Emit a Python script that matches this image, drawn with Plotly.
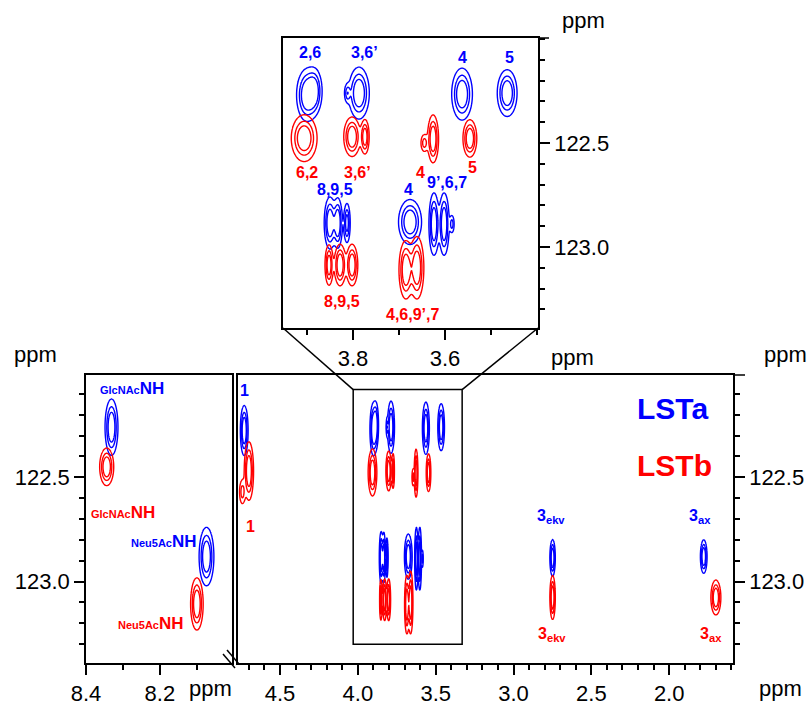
import numpy as np
import plotly.graph_objects as go

# ---------------- data (ppm) ----------------
# peaks: (assignment group, 1H shift, 15N shift, 1H extent, 15N extent, relative intensity)
LSTA_PEAKS = [
    ("GlcNAc NH", 8.331, 122.26, 0.035, 0.27, 1.0),
    ("Neu5Ac NH", 8.074, 122.88, 0.040, 0.28, 1.0),
    ("1", 4.730, 122.276, 0.050, 0.24, 1.0),
    ("2,6", 3.900, 122.27, 0.045, 0.25, 1.0),
    ("2,6", 3.884, 122.25, 0.035, 0.22, 0.8),
    ("3,6'", 3.787, 122.26, 0.045, 0.25, 1.0),
    ("3,6'", 3.812, 122.26, 0.015, 0.10, 0.5),
    ("4a", 3.563, 122.265, 0.045, 0.25, 1.0),
    ("5", 3.465, 122.26, 0.043, 0.225, 1.0),
    ("8,9,5", 3.850, 122.885, 0.025, 0.25, 1.0),
    ("8,9,5", 3.833, 122.885, 0.020, 0.24, 1.0),
    ("8,9,5", 3.813, 122.885, 0.015, 0.20, 0.8),
    ("4b", 3.676, 122.88, 0.050, 0.216, 1.0),
    ("9',6,7", 3.624, 122.89, 0.022, 0.30, 1.0),
    ("9',6,7", 3.602, 122.89, 0.022, 0.30, 1.0),
    ("9',6,7", 3.585, 122.89, 0.012, 0.10, 0.5),
    ("3ekv", 2.749, 122.886, 0.035, 0.175, 1.0),
    ("3ax", 1.778, 122.88, 0.043, 0.16, 1.0),
]
LSTB_PEAKS = [
    ("GlcNAc NH", 8.344, 122.45, 0.038, 0.18, 1.0),
    ("Neu5Ac NH", 8.100, 123.107, 0.034, 0.25, 1.0),
    ("1", 4.700, 122.47, 0.060, 0.28, 1.0),
    ("1", 4.742, 122.57, 0.045, 0.14, 0.5),
    ("6,2", 3.906, 122.477, 0.056, 0.225, 1.0),
    ("3,6'", 3.802, 122.47, 0.036, 0.19, 1.0),
    ("3,6'", 3.774, 122.47, 0.019, 0.17, 0.9),
    ("4", 3.626, 122.48, 0.024, 0.23, 1.0),
    ("4", 3.645, 122.50, 0.018, 0.10, 0.5),
    ("5", 3.546, 122.478, 0.030, 0.18, 1.0),
    ("8,9,5", 3.852, 123.087, 0.018, 0.20, 0.9),
    ("8,9,5", 3.828, 123.087, 0.025, 0.20, 1.0),
    ("8,9,5", 3.802, 123.087, 0.025, 0.20, 1.0),
    ("4,6,9',7", 3.685, 123.11, 0.030, 0.28, 1.0),
    ("4,6,9',7", 3.661, 123.10, 0.030, 0.30, 1.0),
    ("3ekv", 2.749, 123.076, 0.035, 0.21, 1.0),
    ("3ax", 1.700, 123.076, 0.064, 0.167, 1.0),
]

# labels: (text, 1H, 15N)
LSTA_INSET_LABELS = [("2,6", 3.893, 122.067), ("3,6’", 3.774, 122.067), ("4", 3.563, 122.091),
                     ("5", 3.459, 122.091), ("8,9,5", 3.839, 122.726), ("4", 3.680, 122.726),
                     ("9’,6,7", 3.596, 122.692)]
LSTB_INSET_LABELS = [("6,2", 3.900, 122.644), ("3,6’", 3.791, 122.644), ("4", 3.654, 122.644),
                     ("5", 3.541, 122.620), ("8,9,5", 3.824, 123.264), ("4,6,9’,7", 3.670, 123.327)]
LSTA_MAIN_LABELS = [("1", 4.730, 122.086), ("3<sub>ekv</sub>", 2.762, 122.69), ("3<sub>ax</sub>", 1.803, 122.69)]
LSTB_MAIN_LABELS = [("1", 4.692, 122.738), ("3<sub>ekv</sub>", 2.756, 123.252), ("3<sub>ax</sub>", 1.733, 123.252)]
LSTA_NH_LABELS = [("GlcNAc", 8.276, 122.073), ("Neu5Ac", 8.189, 122.81)]
LSTB_NH_LABELS = [("GlcNAc", 8.299, 122.67), ("Neu5Ac", 8.223, 123.20)]
SAMPLES = ["LSTa", "LSTb"]

MAIN_XTICKS = [4.5, 4.0, 3.5, 3.0, 2.5, 2.0]
LEFT_XTICKS = [8.4, 8.2]
INSET_XTICKS = [3.8, 3.6]
N_TICKS = [122.5, 123.0]
ZOOM_BOX = (4.03, 3.33, 122.08, 123.30)

# ---------------- layout geometry ----------------
W, H = 808, 705
BLUE, RED = "#0000ff", "#ff0000"
FONT = "Liberation Sans, Arial, Helvetica, sans-serif"

def px(x):
    return x / W

def py(y):
    return 1 - y / H

MAIN_DOM_X = [px(238), px(733)]
MAIN_DOM_Y = [py(663), py(375)]
LEFT_DOM_X = [px(86), px(232)]
INSET_DOM_X = [px(283), px(538)]
INSET_DOM_Y = [py(328), py(38)]
MAIN_XR = [4.77, 1.59]
LEFT_XR = [8.40, 8.005]
INSET_XR = [3.952, 3.398]
MAIN_YR = [123.39, 122.01]
INSET_YR = [123.39, 121.995]

fig = go.Figure()

LEVELS = (0.15, 0.8, 0.22)
SIG = np.sqrt(2 * np.log(1 / LEVELS[0]))


def add_group(peaks, color, xa, ya):
    xs_lo = min(p[1] - 0.9 * p[3] for p in peaks)
    xs_hi = max(p[1] + 0.9 * p[3] for p in peaks)
    ys_lo = min(p[2] - 0.9 * p[4] for p in peaks)
    ys_hi = max(p[2] + 0.9 * p[4] for p in peaks)
    gx = np.linspace(xs_lo, xs_hi, 70)
    gy = np.linspace(ys_lo, ys_hi, 90)
    X, Y = np.meshgrid(gx, gy)
    Z = np.zeros_like(X)
    for _, h, n, wh, wn, a in peaks:
        sx = wh / 2 / SIG
        sy = wn / 2 / SIG
        Z += a * np.exp(-((X - h) ** 2 / (2 * sx ** 2) + (Y - n) ** 2 / (2 * sy ** 2)))
    fig.add_trace(go.Contour(
        x=np.round(gx, 5), y=np.round(gy, 5), z=np.round(Z, 4),
        contours=dict(start=LEVELS[0], end=LEVELS[1], size=LEVELS[2], coloring="lines"),
        colorscale=[[0, color], [1, color]], showscale=False,
        line=dict(width=1.4), hoverinfo="skip", xaxis=xa, yaxis=ya,
    ))


for peaks, color in [(LSTA_PEAKS, BLUE), (LSTB_PEAKS, RED)]:
    groups = {}
    for p in peaks:
        groups.setdefault(p[0], []).append(p)
    for g, plist in groups.items():
        h = plist[0][1]
        if h > 6:
            add_group(plist, color, "x2", "y2")
        else:
            add_group(plist, color, "x", "y")
            if INSET_XR[1] < h < INSET_XR[0]:
                add_group(plist, color, "x3", "y3")

axis_common = dict(
    showline=True, linecolor="black", linewidth=1.5, mirror=True, automargin=False,
    ticks="outside", ticklen=10, tickwidth=1.5, tickcolor="black",
    showgrid=False, zeroline=False, tickformat=".1f",
    tickfont=dict(size=22, color="black", family=FONT),
    minor=dict(dtick=0.1, tick0=0, ticks="outside", ticklen=5, tickwidth=1.5,
               tickcolor="black", showgrid=False),
)

fig.update_layout(
    template="none",
    width=W, height=H, margin=dict(l=0, r=0, t=0, b=0, pad=0), autosize=False,
    paper_bgcolor="white", plot_bgcolor="white", showlegend=False,
    font=dict(family=FONT, color="black"),
    xaxis=dict(axis_common, domain=MAIN_DOM_X, range=MAIN_XR, tickvals=MAIN_XTICKS, anchor="y"),
    yaxis=dict(axis_common, domain=MAIN_DOM_Y, range=MAIN_YR, tickvals=N_TICKS, side="right", anchor="x"),
    xaxis2=dict(axis_common, domain=LEFT_DOM_X, range=LEFT_XR, tickvals=LEFT_XTICKS, anchor="y2"),
    yaxis2=dict(axis_common, domain=MAIN_DOM_Y, range=MAIN_YR, tickvals=N_TICKS, side="left", anchor="x2"),
    xaxis3=dict(axis_common, domain=INSET_DOM_X, range=INSET_XR, tickvals=INSET_XTICKS, anchor="y3"),
    yaxis3=dict(axis_common, domain=INSET_DOM_Y, range=INSET_YR, tickvals=N_TICKS, side="right", anchor="x3"),
)

ann = []


def lab(text, x, y, color, xr, yr, size=16):
    ann.append(dict(text="<b>%s</b>" % text, x=x, y=y, xref=xr, yref=yr, showarrow=False,
                    xanchor="center", yanchor="middle",
                    font=dict(size=size, color=color, family=FONT)))


for t, x, y in LSTA_INSET_LABELS:
    lab(t, x, y, BLUE, "x3", "y3")
for t, x, y in LSTB_INSET_LABELS:
    lab(t, x, y, RED, "x3", "y3")
for t, x, y in LSTA_MAIN_LABELS:
    lab(t, x, y, BLUE, "x", "y")
for t, x, y in LSTB_MAIN_LABELS:
    lab(t, x, y, RED, "x", "y")
for t, x, y in LSTA_NH_LABELS:
    lab("<span style='font-size:11px'>%s</span>NH" % t, x, y, BLUE, "x2", "y2", size=17)
for t, x, y in LSTB_NH_LABELS:
    lab("<span style='font-size:11px'>%s</span>NH" % t, x, y, RED, "x2", "y2", size=17)
lab(SAMPLES[0], 1.976, 122.171, BLUE, "x", "y", size=30)
lab(SAMPLES[1], 1.963, 122.443, RED, "x", "y", size=30)

# axis unit labels
for (x, y) in [(35, 355), (785, 355), (583, 20), (210, 688), (780, 688), (572, 358)]:
    ann.append(dict(text="ppm", x=px(x), y=py(y), xref="paper", yref="paper", showarrow=False,
                    xanchor="center", yanchor="middle", font=dict(size=22, color="black", family=FONT)))
fig.update_layout(annotations=ann)


def d2p(v, rng, dom):
    return dom[0] + (v - rng[0]) / (rng[1] - rng[0]) * (dom[1] - dom[0])


x0, x1, y0, y1 = ZOOM_BOX
bx0, bx1 = d2p(x0, MAIN_XR, MAIN_DOM_X), d2p(x1, MAIN_XR, MAIN_DOM_X)
by0 = d2p(y0, MAIN_YR, MAIN_DOM_Y)
line = dict(color="black", width=1.5)
shapes = [
    dict(type="rect", xref="x", yref="y", x0=x0, x1=x1, y0=y0, y1=y1, line=line),
    dict(type="line", xref="paper", yref="paper", x0=INSET_DOM_X[0], y0=INSET_DOM_Y[0], x1=bx0, y1=by0, line=line),
    dict(type="line", xref="paper", yref="paper", x0=INSET_DOM_X[1], y0=INSET_DOM_Y[0], x1=bx1, y1=by0, line=line),
    # top borders extending beyond the right axes
    dict(type="line", xref="paper", yref="paper", x0=MAIN_DOM_X[1], y0=MAIN_DOM_Y[1], x1=px(745), y1=MAIN_DOM_Y[1], line=line),
    dict(type="line", xref="paper", yref="paper", x0=INSET_DOM_X[1], y0=INSET_DOM_Y[1], x1=px(549), y1=INSET_DOM_Y[1], line=line),
    # axis break marks
    dict(type="line", xref="paper", yref="paper", x0=px(223), y0=py(654), x1=px(235), y1=py(668), line=line),
    dict(type="line", xref="paper", yref="paper", x0=px(227), y0=py(650), x1=px(239), y1=py(664), line=line),
]
fig.update_layout(shapes=shapes)

fig.write_html("out.html", config={"displayModeBar": False},
               post_script="document.body.style.margin='0px';document.body.style.padding='0px';")
